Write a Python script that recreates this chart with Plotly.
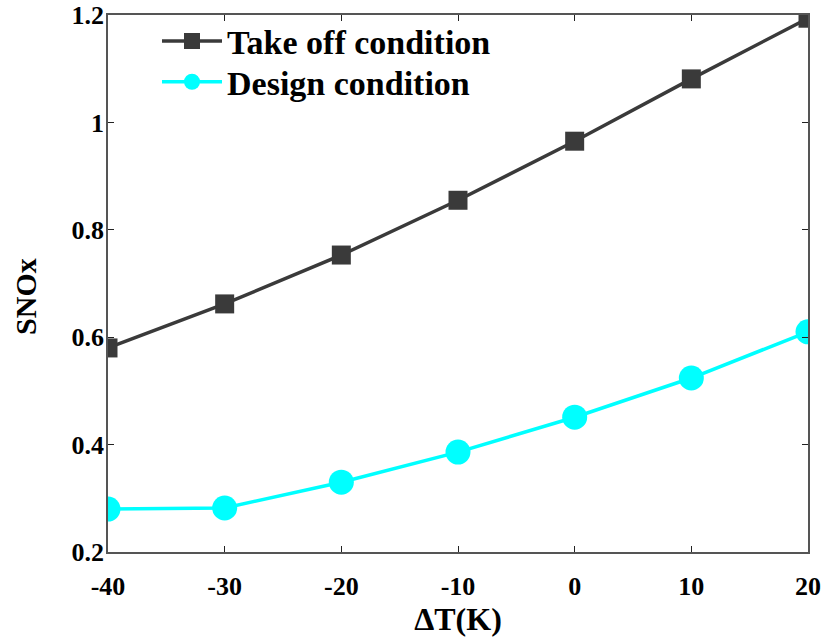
import plotly.graph_objects as go

dT = [-40, -30, -20, -10, 0, 10, 20]
takeoff = [0.580, 0.662, 0.753, 0.855, 0.965, 1.081, 1.194]
design = [0.280, 0.282, 0.330, 0.386, 0.451, 0.524, 0.610]
xticks = [-40, -30, -20, -10, 0, 10, 20]
xtext = ["-40", "-30", "-20", "-10", "0", "10", "20"]
yticks = [0.2, 0.4, 0.6, 0.8, 1.0, 1.2]
ytext = ["0.2", "0.4", "0.6", "0.8", "1", "1.2"]

FONT = "Liberation Serif, Times New Roman, serif"

fig = go.Figure()
fig.add_trace(go.Scatter(
    x=dT, y=takeoff, mode="lines+markers", name="Take off condition",
    line=dict(color="#3a3a3a", width=3.5),
    marker=dict(symbol="square", size=19, color="#3a3a3a"),
    legend="legend",
))
fig.add_trace(go.Scatter(
    x=dT, y=design, mode="lines+markers", name="Design condition",
    line=dict(color="#00ffff", width=3.5),
    marker=dict(symbol="circle", size=25, color="#00ffff"),
    legend="legend2",
))

axis_common = dict(
    showline=True, linecolor="#555555", linewidth=1.5, mirror="ticks",
    ticks="inside", ticklen=6, tickwidth=1.2, tickcolor="#222222",
    showgrid=False, zeroline=False, automargin=False,
    ticklabeloverflow="allow",
    tickfont=dict(family=FONT, size=26, color="black", weight="bold"),
)

fig.update_xaxes(
    range=[-40, 20], tickvals=xticks, ticktext=xtext, ticklabelstandoff=10,
    title=dict(text="ΔT(K)", font=dict(family=FONT, size=32, color="black", weight="bold"), standoff=4),
    **axis_common,
)
fig.update_yaxes(
    range=[0.2, 1.2], tickvals=yticks, ticktext=ytext, ticklabelstandoff=-3,
    **axis_common,
)

# y-axis title as annotation (placed slightly below centre, as in the reference)
fig.add_annotation(
    text="SNOx", textangle=-90, showarrow=False,
    xref="paper", yref="paper", x=0, y=0.475,
    xanchor="center", yanchor="middle", xshift=-82,
    font=dict(family=FONT, size=30, color="black", weight="bold"),
)

legend_common = dict(
    xanchor="left", yanchor="middle",
    bgcolor="rgba(0,0,0,0)",
    font=dict(family=FONT, size=34, color="black", weight="bold"),
    itemwidth=60,
)

fig.update_layout(
    width=822, height=640,
    margin=dict(l=108, r=14, t=15, b=88),
    paper_bgcolor="white", plot_bgcolor="white",
    showlegend=True,
    legend=dict(x=0.07, y=0.951, **legend_common),
    legend2=dict(x=0.07, y=0.875, **legend_common),
)

fig.write_html(
    "out.html",
    config={"displayModeBar": False},
    post_script="document.body.style.margin='0';document.body.style.overflow='hidden';",
)
